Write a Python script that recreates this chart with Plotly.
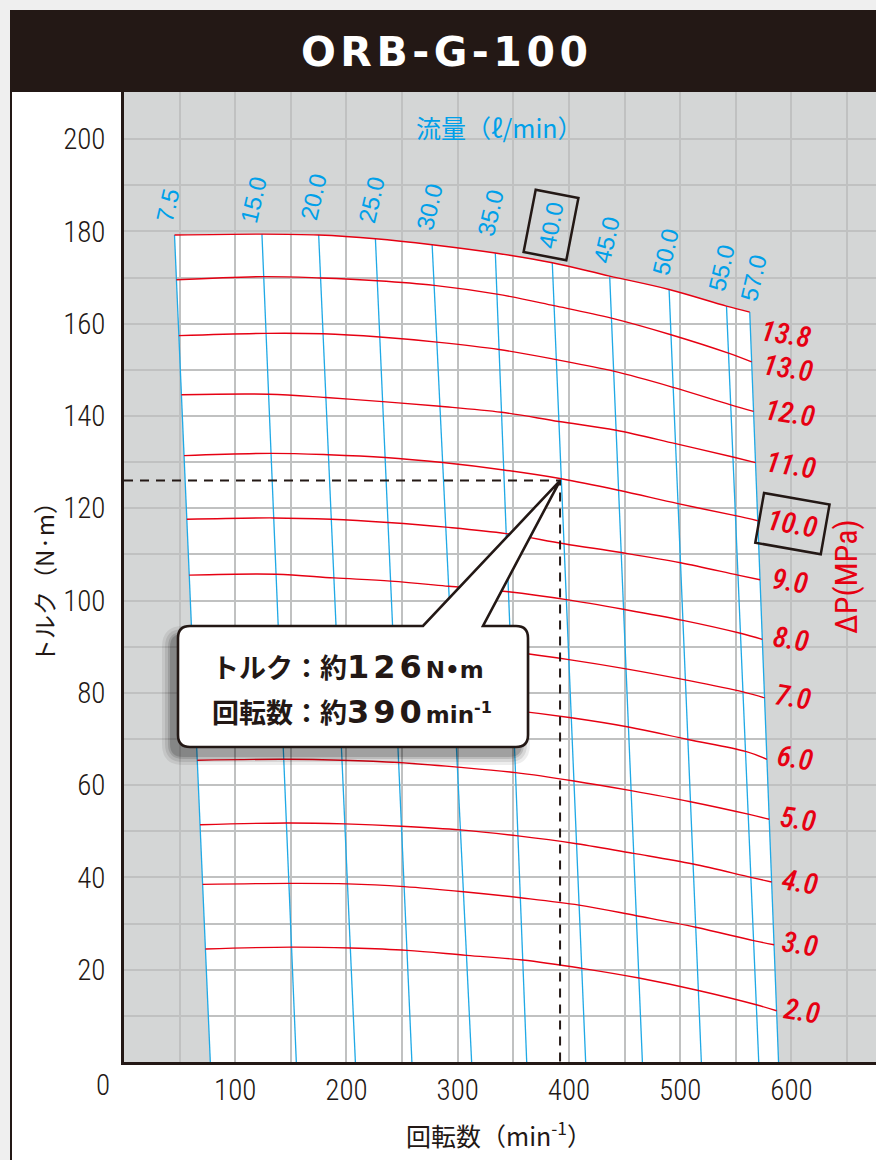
import plotly.graph_objects as go

# ---------------- data ----------------
flow_labels = ["7.5", "15.0", "20.0", "25.0", "30.0", "35.0", "40.0", "45.0", "50.0", "55.0", "57.0"]
flow_rpm_top = [45.4, 124, 175, 226, 277, 333.8, 385, 436.6, 490, 541.6, 562.5]      # rpm where each flow line meets 13.8 MPa
flow_rpm_bottom = [77.6, 154.9, 208, 258.8, 312.5, 362, 415, 466, 519, 570.6, 588.4]  # rpm at torque 0

dp_labels = ["13.8", "13.0", "12.0", "11.0", "10.0", "9.0", "8.0", "7.0", "6.0", "5.0", "4.0", "3.0", "2.0"]
# torque (N·m) of each pressure curve where it crosses each flow line (columns follow flow_labels)
torque_138 = [179.2, 179.4, 179.2, 178.4, 177.1, 175.3, 173.2, 170.3, 167.4, 163.8, 162.5]
torque_130 = [169.5, 170.2, 169.9, 169.3, 168.3, 166.4, 163.9, 161.2, 157.6, 153.6, 151.7]
torque_120 = [157.4, 157.9, 157.8, 157.1, 156.0, 154.4, 152.2, 149.7, 146.2, 142.4, 141.0]
torque_110 = [144.6, 144.7, 144.0, 143.1, 142.1, 140.8, 138.8, 136.9, 134.0, 131.1, 129.9]
torque_100 = [131.4, 131.9, 131.6, 131.0, 129.9, 128.3, 126.4, 123.9, 121.0, 118.4, 117.3]
torque_90 = [117.6, 117.9, 117.6, 116.9, 115.9, 114.5, 112.3, 110.4, 108.2, 105.5, 104.5]
torque_80 = [105.5, 105.7, 104.9, 104.2, 103.1, 101.9, 100.2, 98.1, 95.7, 92.9, 91.6]
torque_70 = [92.0, 92.3, 91.9, 91.2, 90.2, 88.9, 87.2, 85.2, 82.8, 80.2, 78.9]
torque_60 = [78.8, 79.2, 78.9, 78.3, 77.4, 76.2, 74.6, 72.6, 69.9, 67.3, 65.6]
torque_50 = [65.4, 65.6, 65.4, 64.9, 63.9, 62.7, 60.9, 58.8, 56.4, 53.7, 52.6]
torque_40 = [51.4, 51.8, 51.6, 51.1, 50.3, 49.0, 47.3, 45.2, 42.9, 40.0, 39.0]
torque_30 = [38.5, 38.7, 38.6, 38.0, 36.9, 35.6, 34.0, 31.7, 29.2, 26.3, 25.4]
torque_20 = [24.5, 24.9, 24.7, 24.2, 23.1, 22.1, 20.3, 18.2, 15.5, 12.4, 11.1]
torque_rows = [torque_138, torque_130, torque_120, torque_110, torque_100, torque_90, torque_80,
               torque_70, torque_60, torque_50, torque_40, torque_30, torque_20]

read_rpm = 392
read_torque = 126

x_ticks = [100, 200, 300, 400, 500, 600]
y_ticks = [20, 40, 60, 80, 100, 120, 140, 160, 180, 200]

# ---------------- layout geometry ----------------
W, H = 876, 1160
ML, MT, MB = 124, 92, 98
PW, PH = W - ML, H - MT - MB
XMAX, YMAX = 676.0, 210.2

def dx(px):  # pixel -> data x
    return (px - ML) * XMAX / PW

def dy(py):  # pixel -> data y
    return (H - MB - py) * YMAX / PH

def paper_x(px):
    return (px - ML) / PW

def paper_y(py):
    return (H - MB - py) / PH

DARK = "#231815"
RED = "#e60012"
BLUE = "#00a0e9"
LINE_BLUE = "#1fa9e6"
GRAY_BG = "#d4d6d6"
GRID = "#c0c1c1"
NARROW = "Roboto Condensed, DejaVu Sans Condensed, sans-serif"
JP = "Noto Sans CJK JP, sans-serif"

def flow_x(j, t):
    """rpm on flow line j at torque t (straight line from bottom to top point)."""
    return flow_rpm_bottom[j] + (flow_rpm_top[j] - flow_rpm_bottom[j]) * t / torque_138[j]

fig = go.Figure()

# blue flow lines
for j in range(len(flow_labels)):
    fig.add_trace(go.Scatter(x=[flow_rpm_top[j], flow_rpm_bottom[j]], y=[torque_138[j], 0],
                             mode="lines", line=dict(color=LINE_BLUE, width=1.3),
                             hoverinfo="skip", showlegend=False))

# red pressure curves
for i, row in enumerate(torque_rows):
    xs = [flow_x(j, t) for j, t in enumerate(row)]
    fig.add_trace(go.Scatter(x=xs, y=row, mode="lines",
                             line=dict(color=RED, width=1.4, shape="spline", smoothing=1.0),
                             hoverinfo="skip", showlegend=False))

# dashed reading lines
fig.add_trace(go.Scatter(x=[0, read_rpm, read_rpm], y=[read_torque, read_torque, 0], mode="lines",
                         line=dict(color=DARK, width=2, dash="9px,7px"),
                         hoverinfo="skip", showlegend=False))

# ---------------- shapes ----------------
shapes = []
# white operating envelope (under the grid)
env = [(flow_rpm_bottom[0], 0)] + [(flow_rpm_top[j], torque_138[j]) for j in range(len(flow_labels))] \
      + [(flow_rpm_bottom[-1], 0)]
env_path = "M " + " L ".join(f"{a:.3f},{b:.3f}" for a, b in env) + " Z"
shapes.append(dict(type="path", path=env_path, xref="x", yref="y", fillcolor="white",
                   line=dict(width=0), layer="below"))

# page decoration (outside plot area)
shapes.append(dict(type="rect", xref="paper", yref="paper", x0=paper_x(0), x1=paper_x(W),
                   y0=paper_y(10), y1=paper_y(0), fillcolor="#efefef", line=dict(width=0)))
shapes.append(dict(type="rect", xref="paper", yref="paper", x0=paper_x(0), x1=paper_x(10),
                   y0=paper_y(H), y1=paper_y(0), fillcolor="#efefef", line=dict(width=0)))
shapes.append(dict(type="rect", xref="paper", yref="paper", x0=paper_x(10), x1=paper_x(W),
                   y0=paper_y(92), y1=paper_y(10), fillcolor=DARK, line=dict(width=0)))
shapes.append(dict(type="line", xref="paper", yref="paper", x0=paper_x(11), x1=paper_x(11),
                   y0=paper_y(H), y1=paper_y(92), line=dict(color=DARK, width=2)))


def callout_path(L, R, T, B, r, b1, b2, tip):
    def P(px, py):
        return f"{dx(px):.3f},{dy(py):.3f}"
    s = f"M {P(L + r, T)} L {P(b1, T)} L {tip[0]:.3f},{tip[1]:.3f} L {P(b2, T)} L {P(R - r, T)} "
    s += f"Q {P(R, T)} {P(R, T + r)} L {P(R, B - r)} Q {P(R, B)} {P(R - r, B)} "
    s += f"L {P(L + r, B)} Q {P(L, B)} {P(L, B - r)} L {P(L, T + r)} Q {P(L, T)} {P(L + r, T)} Z"
    return s


def rrect_path(L, R, T, B, r):
    def P(px, py):
        return f"{dx(px):.3f},{dy(py):.3f}"
    s = f"M {P(L + r, T)} L {P(R - r, T)} Q {P(R, T)} {P(R, T + r)} L {P(R, B - r)} "
    s += f"Q {P(R, B)} {P(R - r, B)} L {P(L + r, B)} Q {P(L, B)} {P(L, B - r)} "
    s += f"L {P(L, T + r)} Q {P(L, T)} {P(L + r, T)} Z"
    return s


CL, CR, CT, CB, CRAD = 178, 528, 626, 747, 12
# soft shadow
for grow, op in [(9, 0.07), (6, 0.09), (3, 0.12), (1, 0.15)]:
    shapes.append(dict(type="path", xref="x", yref="y",
                       path=rrect_path(CL - 7 - grow, CR - 7 + grow, CT + 9 - grow, CB + 9 + grow, CRAD + grow),
                       fillcolor="black", opacity=op, line=dict(width=0), layer="above"))
shapes.append(dict(type="path", xref="x", yref="y",
                   path=callout_path(CL, CR, CT, CB, CRAD, 423, 483, (read_rpm, read_torque)),
                   fillcolor="white", line=dict(color=DARK, width=2.6), layer="above"))

# ---------------- annotations ----------------
ann = []
ann.append(dict(xref="paper", yref="paper", x=paper_x(446), y=paper_y(52), showarrow=False,
                text="<b><span style='letter-spacing:4.5px'>ORB-G-100</span></b>",
                font=dict(family="DejaVu Sans, sans-serif", size=41, color="white"),
                xanchor="center", yanchor="middle"))

ann.append(dict(xref="x", yref="y", x=dx(499), y=dy(127), showarrow=False,
                text="流量（ℓ/min）", font=dict(family=JP, size=25, color=BLUE),
                xanchor="center", yanchor="middle"))

flow_label_px = [(167, 206), (253, 200), (313, 197), (371, 200), (429, 207), (490, 213),
                 (551, 225), (606, 240), (665, 252), (721, 268), (753, 278)]
for j, lab in enumerate(flow_labels):
    px, py = flow_label_px[j]
    a = dict(xref="x", yref="y", x=dx(px), y=dy(py), showarrow=False, text=lab, textangle=-77,
             font=dict(family="Liberation Sans, Arial, sans-serif", size=24, color=BLUE),
             xanchor="center", yanchor="middle")
    if lab == "40.0":
        a.update(bordercolor=DARK, borderwidth=2.5, borderpad=7, textangle=-79)
    ann.append(a)

dp_label_px = [(786, 334), (788, 368), (790, 413), (791, 465), (792, 523), (790, 581), (791, 639),
               (793, 697), (795, 758), (798, 819), (800, 882), (800, 944), (802, 1011)]
for i, lab in enumerate(dp_labels):
    px, py = dp_label_px[i]
    a = dict(xref="x", yref="y", x=dx(px), y=dy(py), showarrow=False, text=lab, textangle=9,
             font=dict(family=NARROW, size=29, color=RED, style="italic", weight=500),
             xanchor="center", yanchor="middle")
    if lab == "10.0":
        a.update(bordercolor=DARK, borderwidth=2.5, borderpad=7, textangle=10)
    ann.append(a)

ann.append(dict(xref="x", yref="y", x=dx(846), y=dy(577), showarrow=False, text="ΔP(MPa)",
                textangle=-90, font=dict(family=NARROW, size=32, color=RED),
                xanchor="center", yanchor="middle"))

ann.append(dict(xref="paper", yref="paper", x=paper_x(43), y=paper_y(577), showarrow=False,
                text="トルク（N·m）", textangle=-90, font=dict(family=JP, size=24, color=DARK),
                xanchor="center", yanchor="middle"))

ann.append(dict(xref="paper", yref="paper", x=paper_x(499), y=paper_y(1134), showarrow=False,
                text="回転数（min<sup>-1</sup>）", font=dict(family=JP, size=25, color=DARK),
                xanchor="center", yanchor="middle"))

ann.append(dict(xref="paper", yref="paper", x=paper_x(103), y=paper_y(1085), showarrow=False,
                text="0", font=dict(family=NARROW, size=29, color=DARK, weight=300),
                xanchor="center", yanchor="middle"))

num_span = "<span style='font-family:DejaVu Sans;font-size:32px;letter-spacing:4px'><b>{}</b></span>"
unit_span = "<span style='font-family:DejaVu Sans;font-size:23px'><b>{}</b></span>"
ann.append(dict(xref="x", yref="y", x=dx(210), y=dy(666), showarrow=False,
                text="<b>トルク：約</b>" + num_span.format("126") + unit_span.format("N•m"),
                font=dict(family=JP, size=27, color=DARK), xanchor="left", yanchor="middle"))
ann.append(dict(xref="x", yref="y", x=dx(210), y=dy(711), showarrow=False,
                text="<b>回転数：約</b>" + num_span.format("390") + unit_span.format("min<sup>-1</sup>"),
                font=dict(family=JP, size=27, color=DARK), xanchor="left", yanchor="middle"))

fig.update_layout(
    width=W, height=H,
    margin=dict(l=ML, r=0, t=MT, b=MB, pad=0),
    paper_bgcolor="white", plot_bgcolor=GRAY_BG,
    shapes=shapes, annotations=ann, showlegend=False,
    xaxis=dict(range=[0, XMAX], tickvals=x_ticks, ticktext=[str(v) for v in x_ticks],
               showgrid=True, gridcolor=GRID, gridwidth=1.5,
               minor=dict(dtick=50, tick0=0, showgrid=True, gridcolor=GRID, gridwidth=1.5),
               showline=True, linecolor=DARK, linewidth=2.5, ticks="", zeroline=False,
               tickfont=dict(family=NARROW, size=29, color=DARK, weight=300), ticklabelstandoff=0,
               fixedrange=True),
    yaxis=dict(range=[0, YMAX], tickvals=y_ticks, ticktext=[str(v) for v in y_ticks],
               showgrid=True, gridcolor=GRID, gridwidth=1.5,
               minor=dict(dtick=10, tick0=0, showgrid=True, gridcolor=GRID, gridwidth=1.5),
               showline=True, linecolor=DARK, linewidth=2.5, ticks="", zeroline=False,
               tickfont=dict(family=NARROW, size=29, color=DARK, weight=300), ticklabelstandoff=10,
               fixedrange=True),
)

fig.write_html("out.html", config={"displayModeBar": False},
               post_script="document.body.style.margin='0';document.body.style.overflow='hidden';")
